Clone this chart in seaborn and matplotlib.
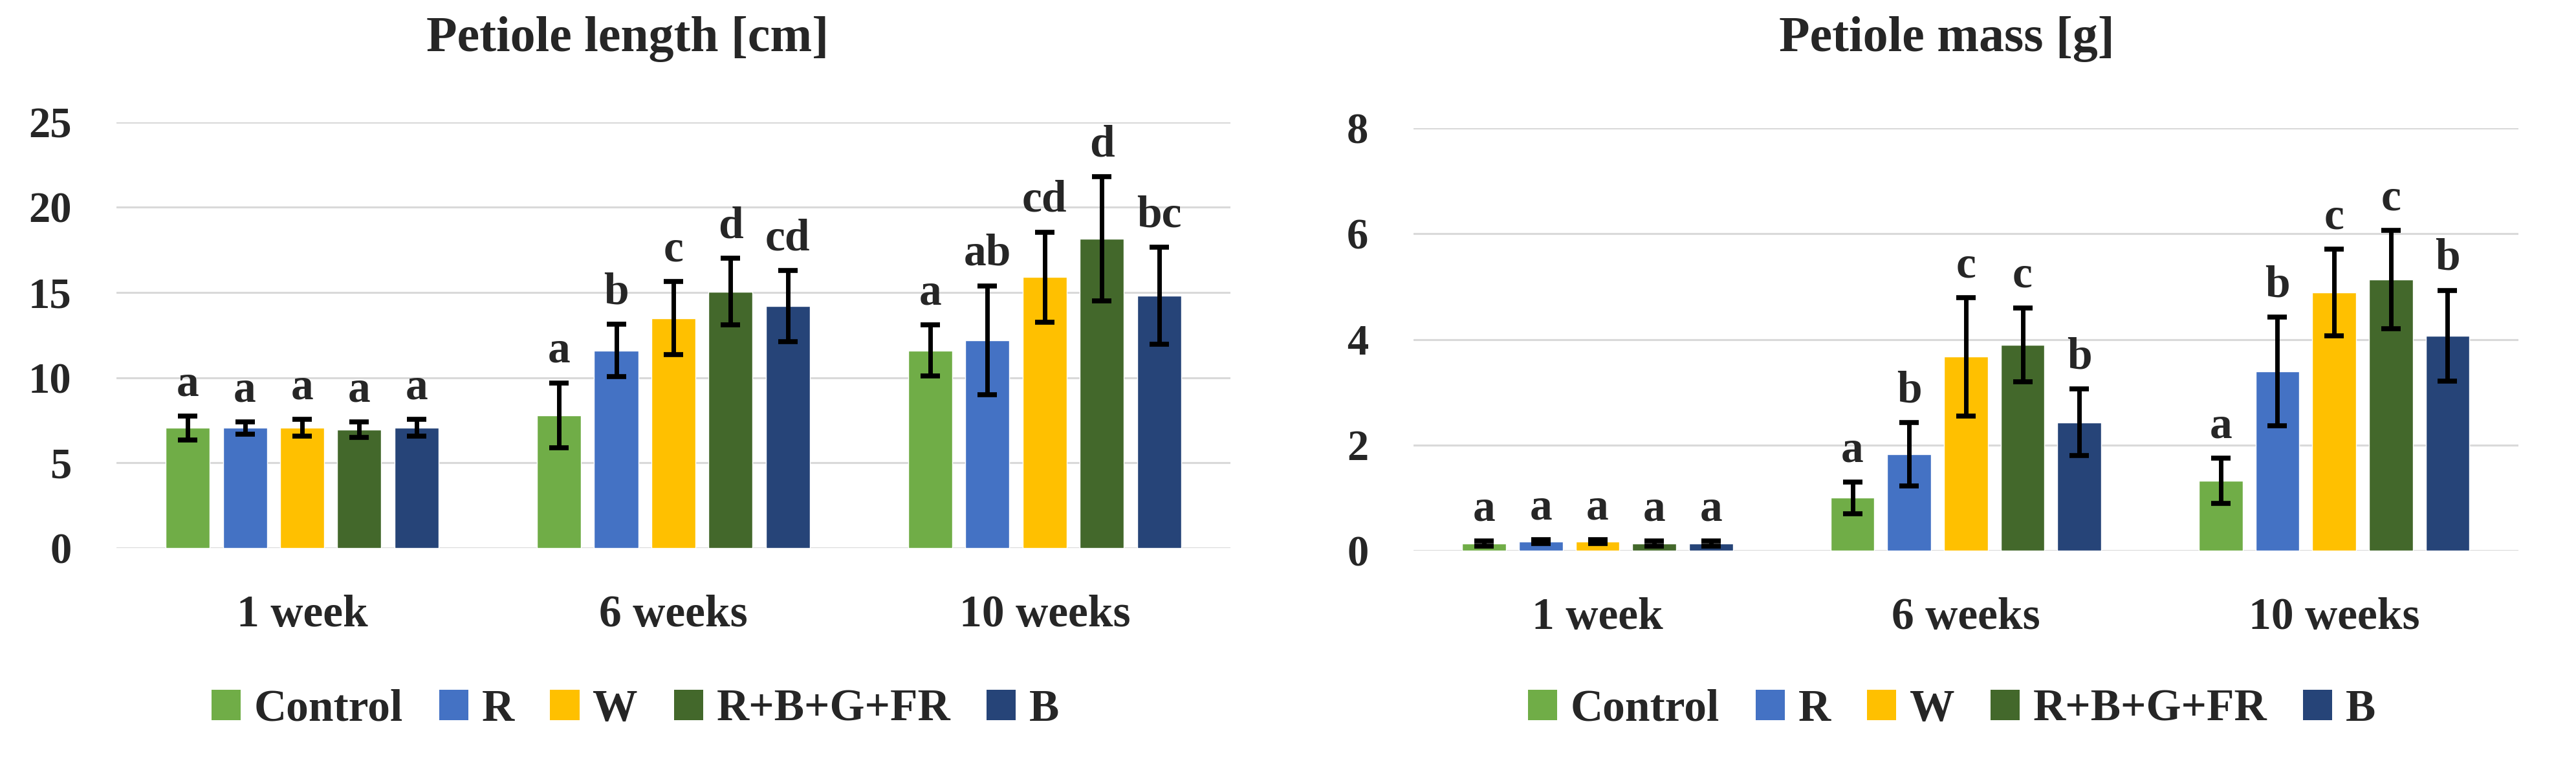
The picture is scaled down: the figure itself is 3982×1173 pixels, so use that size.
import matplotlib
matplotlib.use("Agg")
import matplotlib.pyplot as plt
from matplotlib.patches import Patch
from matplotlib.container import BarContainer
import pandas as pd
import seaborn as sns

weeks = ["1 week", "6 weeks", "10 weeks"]
treatments = ["Control", "R", "W", "R+B+G+FR", "B"]
colors = ["#70AD47", "#4472C4", "#FFC000", "#43682B", "#264478"]

# petiole length [cm]  (rows = weeks, columns = treatments)
length_mean = [[7.05, 7.05, 7.05, 6.95, 7.05],
               [7.8, 11.6, 13.5, 15.05, 14.2],
               [11.6, 12.2, 15.9, 18.15, 14.8]]
length_sd = [[0.7, 0.35, 0.5, 0.45, 0.5],
             [1.9, 1.55, 2.15, 1.95, 2.1],
             [1.5, 3.2, 2.65, 3.65, 2.85]]
length_letters = [["a", "a", "a", "a", "a"],
                  ["a", "b", "c", "d", "cd"],
                  ["a", "ab", "cd", "d", "bc"]]

# petiole mass [g]
mass_mean = [[0.13, 0.17, 0.17, 0.13, 0.13],
             [1.0, 1.82, 3.67, 3.9, 2.43],
             [1.32, 3.39, 4.89, 5.13, 4.07]]
mass_sd = [[0.05, 0.04, 0.04, 0.05, 0.05],
           [0.3, 0.6, 1.12, 0.7, 0.63],
           [0.43, 1.03, 0.82, 0.93, 0.86]]
mass_letters = [["a", "a", "a", "a", "a"],
                ["a", "b", "c", "c", "b"],
                ["a", "b", "c", "c", "b"]]


def long_table(means, sds, letters):
    rows = []
    for i, w in enumerate(weeks):
        for j, t in enumerate(treatments):
            rows.append({"week": w, "treatment": t, "value": means[i][j],
                         "sd": sds[i][j], "letter": letters[i][j]})
    return pd.DataFrame(rows)


sns.set_style("white")
plt.rcParams['font.family'] = ['Liberation Serif', 'DejaVu Serif']
plt.rcParams['font.weight'] = 'bold'

fig = plt.figure(figsize=(39.82, 11.73), dpi=100)
ax1 = fig.add_axes([0.0452, 0.278, 0.4324, 0.561])
ax2 = fig.add_axes([0.5487, 0.2745, 0.4289, 0.5567])


def draw_panel(ax, df, ymax, ystep, title, title_x, legend_x):
    sns.barplot(data=df, x="week", y="value", hue="treatment",
                order=weeks, hue_order=treatments, palette=colors,
                width=0.77, gap=0.23, errorbar=None, legend=False,
                saturation=1, ax=ax, zorder=2)
    bar_conts = [c for c in ax.containers if isinstance(c, BarContainer)]
    for k, cont in enumerate(bar_conts):
        sub = df[df["treatment"] == treatments[k]].set_index("week").loc[weeks]
        bars = sorted(cont.patches, key=lambda p: p.get_x())
        xs = [b.get_x() + b.get_width() / 2 for b in bars]
        ax.errorbar(xs, sub["value"], yerr=sub["sd"], fmt="none",
                    ecolor="black", elinewidth=5, capsize=11, capthick=5.5,
                    zorder=3)
        for x, v, s, lab in zip(xs, sub["value"], sub["sd"], sub["letter"]):
            ax.annotate(lab, (x, v + s), xytext=(0, 12),
                        textcoords="offset points", ha="center", va="bottom",
                        fontsize=50, fontweight="bold", annotation_clip=False)
    ax.set_xlim(-0.5, 2.5)
    ax.set_ylim(0, ymax)
    ax.set_yticks(range(0, ymax + 1, ystep))
    ax.grid(axis="y", color="#D9D9D9", linewidth=2.2, zorder=0)
    ax.set_axisbelow(True)
    sns.despine(ax=ax, left=True, bottom=True)
    ax.tick_params(axis="y", length=0, pad=50, labelsize=48)
    ax.tick_params(axis="x", length=0, pad=52, labelsize=50)
    ax.set_xlabel("")
    ax.set_ylabel("")
    for lbl in ax.get_xticklabels() + ax.get_yticklabels():
        lbl.set_fontweight("bold")
    fig.text(title_x, 0.948, title, ha="center", va="center",
             fontsize=56, fontweight="bold")
    handles = [Patch(facecolor=c, edgecolor="none") for c in colors]
    fig.legend(handles, treatments, loc="center",
               bbox_to_anchor=(legend_x, 0.065), ncol=5, frameon=False,
               handlelength=0.65, handleheight=0.65,
               handletextpad=0.3, columnspacing=0.8,
               prop={"weight": "bold", "size": 50})


draw_panel(ax1, long_table(length_mean, length_sd, length_letters), 25, 5,
           "Petiole length [cm]", 0.2436, 0.2466)
draw_panel(ax2, long_table(mass_mean, mass_sd, mass_letters), 8, 2,
           "Petiole mass [g]", 0.7557, 0.7577)

fig.savefig("out.png", dpi=100)
